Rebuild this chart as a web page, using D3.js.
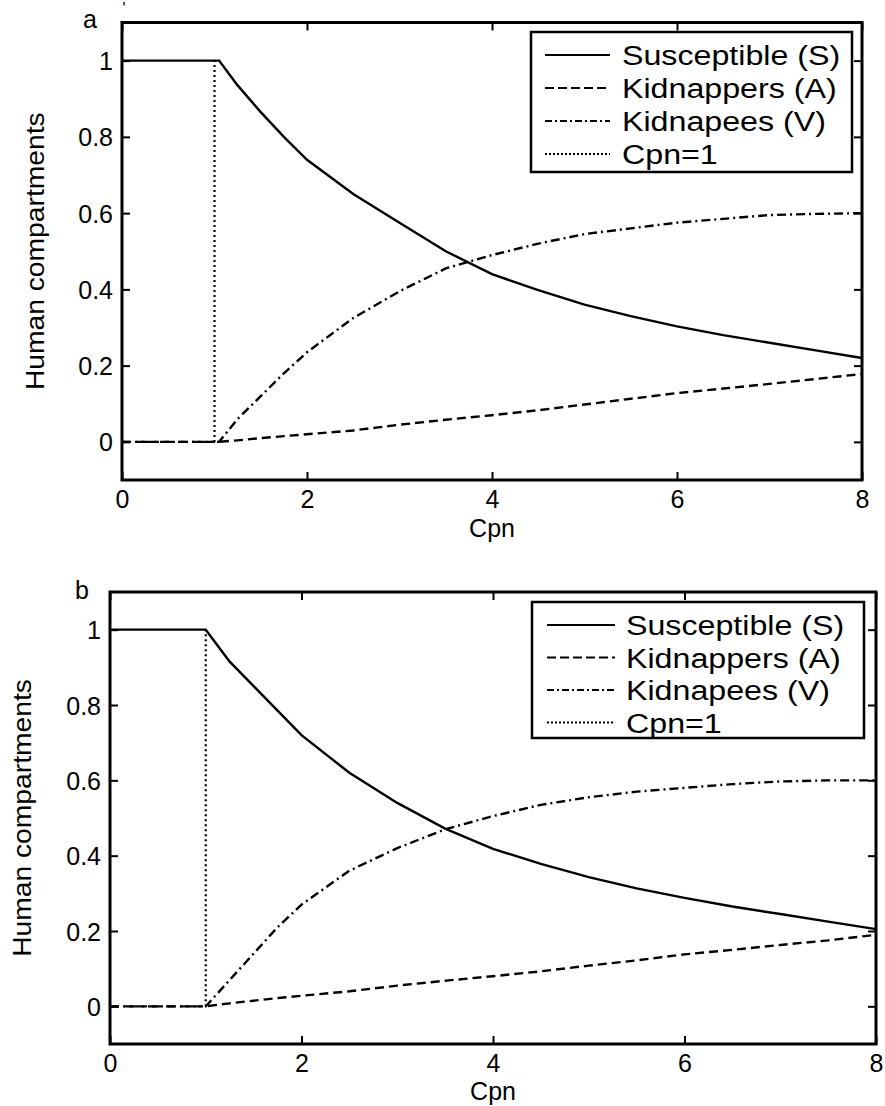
<!DOCTYPE html>
<html>
<head>
<meta charset="utf-8">
<script src="https://cdn.jsdelivr.net/npm/d3@7"></script>
<style>
  html, body { margin: 0; padding: 0; background: #fff; }
  svg { display: block; }
  text { font-family: "Liberation Sans", Arial, sans-serif; fill: #000; }
</style>
</head>
<body>
<svg id="chart" width="885" height="1106"></svg>
<script>
// ---------- data ----------
const cpnA = [0, 0.5, 1.05, 1.25, 1.5, 1.75, 2, 2.5, 3, 3.5, 4, 4.5, 5, 5.5, 6, 6.5, 7, 7.5, 8];
const susceptibleA = [1, 1, 1, 0.935, 0.865, 0.8, 0.74, 0.65, 0.575, 0.50, 0.44, 0.398, 0.36, 0.33, 0.303, 0.28, 0.26, 0.24, 0.22];
const kidnappersA  = [0, 0, 0, 0.004, 0.01, 0.015, 0.02, 0.03, 0.045, 0.058, 0.07, 0.083, 0.098, 0.113, 0.128, 0.14, 0.152, 0.165, 0.178];
const kidnapeesA   = [0, 0, 0, 0.06, 0.12, 0.18, 0.235, 0.325, 0.395, 0.455, 0.49, 0.52, 0.545, 0.56, 0.575, 0.585, 0.595, 0.598, 0.60];

const cpnB = [0, 0.5, 1, 1.25, 1.5, 1.75, 2, 2.5, 3, 3.5, 4, 4.5, 5, 5.5, 6, 6.5, 7, 7.5, 8];
const susceptibleB = [1, 1, 1, 0.915, 0.85, 0.785, 0.72, 0.62, 0.54, 0.472, 0.418, 0.378, 0.343, 0.313, 0.288, 0.265, 0.245, 0.225, 0.205];
const kidnappersB  = [0, 0, 0, 0.008, 0.015, 0.022, 0.028, 0.04, 0.055, 0.068, 0.08, 0.093, 0.108, 0.122, 0.138, 0.15, 0.163, 0.175, 0.19];
const kidnapeesB   = [0, 0, 0, 0.07, 0.14, 0.21, 0.27, 0.36, 0.42, 0.47, 0.505, 0.535, 0.555, 0.57, 0.58, 0.59, 0.597, 0.60, 0.60];

const thresholdCpn = [1];
const thresholdRange = [0, 1];

const xTicks = [0, 2, 4, 6, 8];
const yTicks = [0, 0.2, 0.4, 0.6, 0.8, 1];
const seriesNames = ["Susceptible (S)", "Kidnappers (A)", "Kidnapees (V)", "Cpn=1"];
const panelLabels = ["a", "b"];
const xLabel = "Cpn";
const yLabel = "Human compartments";

// ---------- styles ----------
const dashes = ["none", "9,5", "9,4,2,4", "2,3"];
const legendDashes = ["none", "9,4", "7,3,2,3", "2,2"];
const svg = d3.select("#chart");

function drawPanel(p) {
  const g = svg.append("g").attr("transform", `translate(${p.left},${p.top})`);
  const w = p.width, h = p.height;
  const x = d3.scaleLinear().domain([0, 8]).range([0, w]);
  const y = d3.scaleLinear().domain([-0.1, 1.1]).range([h, 0]);

  const fmt = d3.format("~g");
  const tickFont = 25;

  // axes (MATLAB style: inward ticks on all four sides)
  const ax = g.append("g").attr("transform", `translate(0,${h})`)
    .call(d3.axisBottom(x).tickValues(xTicks).tickFormat(fmt).tickSizeInner(-8).tickSizeOuter(0).tickPadding(10));
  const axT = g.append("g")
    .call(d3.axisTop(x).tickValues(xTicks).tickFormat("").tickSizeInner(-8).tickSizeOuter(0));
  const ay = g.append("g")
    .call(d3.axisLeft(y).tickValues(yTicks).tickFormat(fmt).tickSizeInner(-8).tickSizeOuter(0).tickPadding(9));
  const ayR = g.append("g").attr("transform", `translate(${w},0)`)
    .call(d3.axisRight(y).tickValues(yTicks).tickFormat("").tickSizeInner(-8).tickSizeOuter(0));
  [ax, axT, ay, ayR].forEach(a => {
    a.select(".domain").remove();
    a.selectAll(".tick line").attr("stroke", "#000").attr("stroke-width", 2);
    a.selectAll(".tick text").attr("font-size", tickFont).attr("font-family", "Liberation Sans, Arial, sans-serif").attr("fill", "#000");
  });
  ay.selectAll(".tick text").attr("dy", "0.36em");

  // lines
  const line = d3.line().x(d => x(d[0])).y(d => y(d[1]));
  const seriesData = [p.s, p.a, p.v];
  seriesData.forEach((vals, i) => {
    g.append("path")
      .datum(p.cpn.map((c, k) => [c, vals[k]]))
      .attr("d", line)
      .attr("fill", "none")
      .attr("stroke", "#000")
      .attr("stroke-width", 2.4)
      .attr("stroke-dasharray", dashes[i]);
  });
  // threshold line Cpn = 1
  g.append("path")
    .datum(thresholdRange.map(v => [thresholdCpn[0], v]))
    .attr("d", line)
    .attr("fill", "none").attr("stroke", "#000").attr("stroke-width", 2.2)
    .attr("stroke-dasharray", dashes[3]);

  // box
  g.append("rect").attr("x", 0).attr("y", 0).attr("width", w).attr("height", h)
    .attr("fill", "none").attr("stroke", "#000").attr("stroke-width", 3);

  // legend
  const lg = g.append("g").attr("transform", `translate(${p.legX - p.left},${p.legY - p.top})`);
  lg.append("rect").attr("x", 0).attr("y", 0).attr("width", p.legW).attr("height", p.legH)
    .attr("fill", "#fff").attr("stroke", "#000").attr("stroke-width", 2.5);
  seriesNames.forEach((name, i) => {
    const cy = p.legRow0 + i * p.legStep;
    lg.append("line").attr("x1", p.sampleX0).attr("x2", p.sampleX1).attr("y1", cy).attr("y2", cy)
      .attr("stroke", "#000").attr("stroke-width", 2)
      .attr("stroke-dasharray", legendDashes[i]);
    lg.append("text")
      .attr("transform", `translate(${p.textX},${cy}) scale(1.15,1)`)
      .attr("dy", "0.36em")
      .attr("font-size", 28)
      .text(name);
  });

  // panel letter
  g.append("text").attr("x", p.letterX - p.left).attr("y", p.letterY - p.top)
    .attr("font-size", 25).attr("text-anchor", "middle").text(p.label);
  if (p.mark) {
    g.append("text").attr("x", 2).attr("y", 14 - p.top)
      .attr("font-size", 16).attr("text-anchor", "middle").text(p.mark);
  }

  // axis labels
  g.append("text").attr("transform", `translate(${w / 2},${p.xLabY - p.top}) scale(1,1.05)`)
    .attr("font-size", 25).attr("text-anchor", "middle").text(xLabel);
  g.append("text")
    .attr("transform", `translate(${p.yLabX - p.left},${h / 2}) rotate(-90) scale(1.13,1)`)
    .attr("font-size", 25).attr("text-anchor", "middle").text(yLabel);
}

drawPanel({
  left: 122, top: 22.5, width: 740, height: 457.5,
  cpn: cpnA, s: susceptibleA, a: kidnappersA, v: kidnapeesA,
  legX: 531, legY: 32, legW: 321, legH: 140,
  legRow0: 23, legStep: 33, sampleX0: 14, sampleX1: 79, textX: 91,
  label: panelLabels[0], letterX: 90, letterY: 28, mark: "'",
  xLabY: 537, yLabX: 44
});
drawPanel({
  left: 110, top: 592, width: 766, height: 452,
  cpn: cpnB, s: susceptibleB, a: kidnappersB, v: kidnapeesB,
  legX: 532, legY: 602, legW: 332, legH: 136,
  legRow0: 23, legStep: 32.5, sampleX0: 15, sampleX1: 83, textX: 94,
  label: panelLabels[1], letterX: 82, letterY: 599,
  xLabY: 1100, yLabX: 31
});
</script>
</body>
</html>
